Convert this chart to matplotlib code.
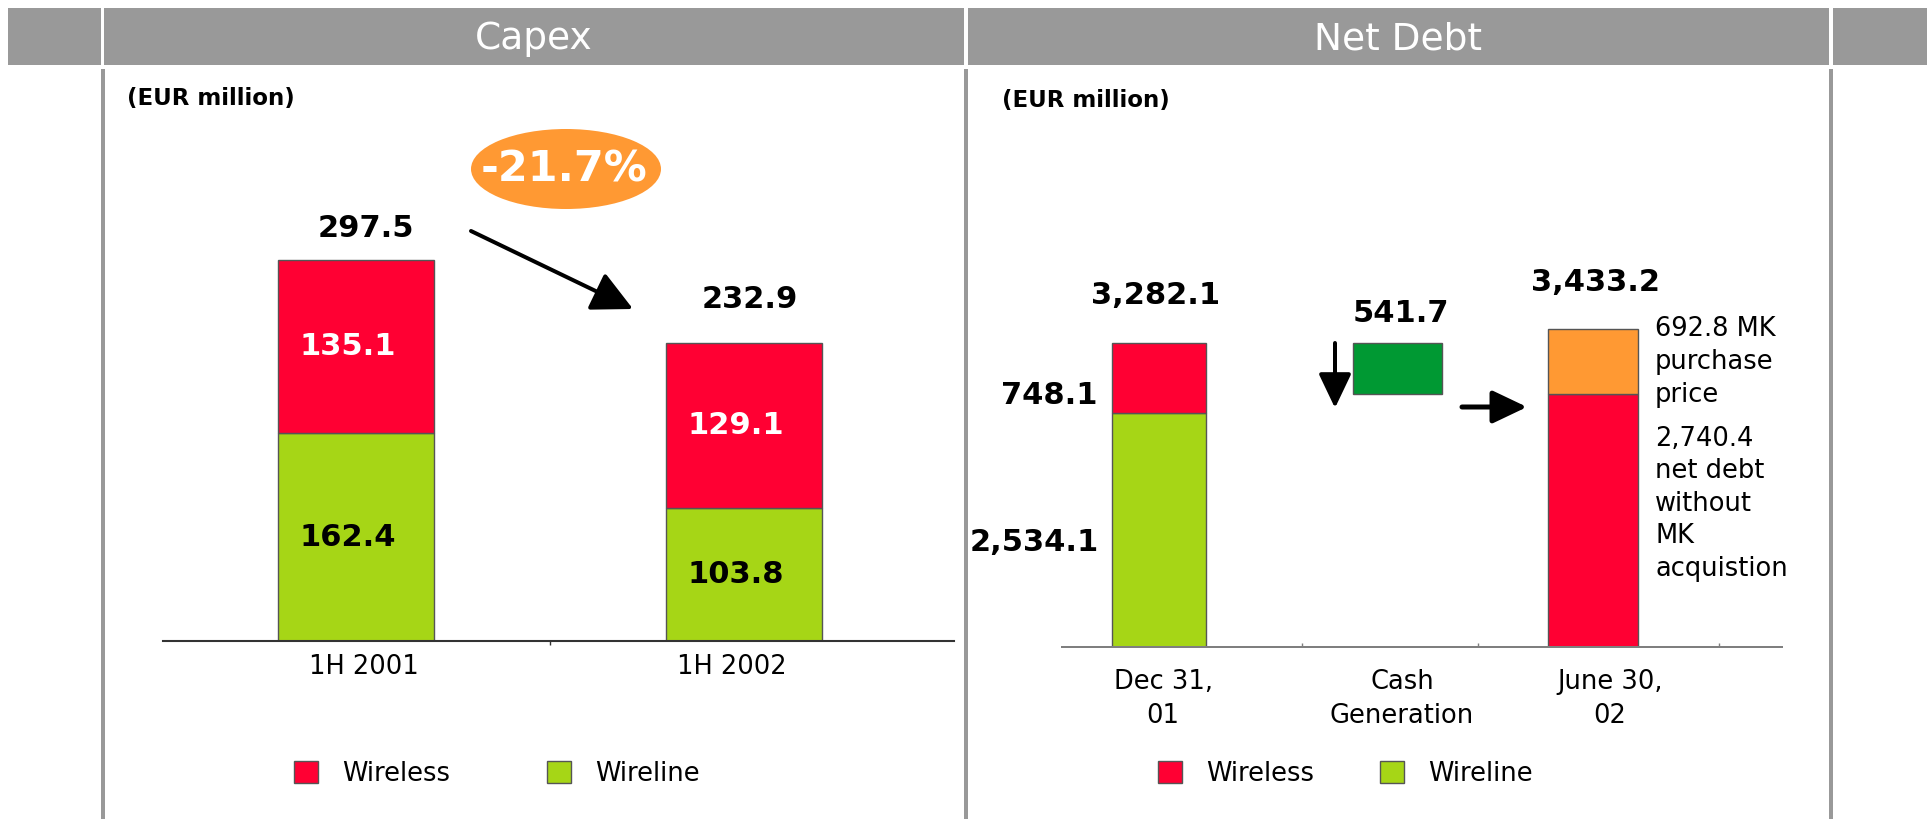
import matplotlib
matplotlib.use('Agg')
import matplotlib.pyplot as plt
from matplotlib.patches import Rectangle, Ellipse
from matplotlib.transforms import ScaledTranslation
import numpy as np

plt.rcParams['font.family'] = ['DejaVu Sans']

# ---------------- data ----------------
capex_periods = ['1H 2001', '1H 2002']
capex_wireless = [135.1, 129.1]
capex_wireline = [162.4, 103.8]
capex_change_label = '-21.7%'

nd_categories = ['Dec 31,\n01', 'Cash\nGeneration', 'June 30,\n02']
nd_dec_wireless = 748.1
nd_dec_wireline = 2534.1
nd_dec_total = 3282.1      # as reported
nd_cash_generation = 541.7
nd_june_base = 2740.4      # net debt without MK acquisition
nd_june_mk = 692.8         # MK purchase price

legend_labels = ['Wireless', 'Wireline']
unit_label = '(EUR million)'
panel_titles = ['Capex', 'Net Debt']

# ---------------- style ----------------
RED = '#FF0033'
LIME = '#A6D616'
DKGREEN = '#009933'
ORANGE = '#FF9933'
GREY = '#999999'
EDGE = '#555555'

W, H = 1927, 819
PX = 0.72  # points per pixel at dpi 100

fig = plt.figure(figsize=(W / 100, H / 100), dpi=100)
fig.patch.set_facecolor('white')


def frac_rect(l, t, r, b):
    return [l / W, 1 - b / H, (r - l) / W, (b - t) / H]


def shift_label(lbl, dx_px):
    lbl.set_transform(lbl.get_transform() + ScaledTranslation(dx_px / 100, 0, fig.dpi_scale_trans))


# overlay for frame decorations (pixel coordinates)
ov = fig.add_axes([0, 0, 1, 1])
ov.set_xlim(0, W)
ov.set_ylim(H, 0)
ov.axis('off')

for (l, r) in [(8, 101), (104, 964), (968, 1829), (1833, W + 5)]:
    ov.add_patch(Rectangle((l, 8), r - l, 57, facecolor=GREY, edgecolor='none'))
for x in [102.5, 966, 1831]:
    ov.plot([x, x], [69, H], color=GREY, lw=4 * PX, solid_capstyle='butt')

ov.text(534, 49, panel_titles[0], color='white', fontsize=27, ha='center', va='baseline')
ov.text(1398, 49, panel_titles[1], color='white', fontsize=27, ha='center', va='baseline')
ov.text(127, 99, unit_label, fontsize=16.5, fontweight='bold', ha='left', va='center')
ov.text(1002, 100, unit_label, fontsize=16.5, fontweight='bold', ha='left', va='center')

# change bubble and arrow (capex)
ov.add_patch(Ellipse((566, 169), 190, 80, facecolor=ORANGE, edgecolor='none'))
ov.text(564, 169, capex_change_label, color='white', fontsize=31, fontweight='bold',
        ha='center', va='center')
ov.annotate('', xy=(633, 309), xytext=(471, 231),
            arrowprops=dict(arrowstyle='-|>,head_length=2.5,head_width=1.25',
                            lw=4 * PX, color='black', shrinkA=0, shrinkB=0))
# net debt arrows
ov.annotate('', xy=(1335, 408), xytext=(1335, 343),
            arrowprops=dict(arrowstyle='-|>,head_length=2.1,head_width=1.0',
                            lw=4 * PX, color='black', shrinkA=0, shrinkB=0))
ov.annotate('', xy=(1527, 407), xytext=(1462, 407),
            arrowprops=dict(arrowstyle='-|>,head_length=2.1,head_width=1.0',
                            lw=5 * PX, color='black', shrinkA=0, shrinkB=0))

# ---------------- Capex panel ----------------
CAP_SCALE = 1.2807  # px per EUR m
ax1 = fig.add_axes(frac_rect(163, 100, 954, 641))
ax1.set_facecolor('none')
ax1.set_xlim(-0.497, 1.541)
ax1.set_ylim(0, (641 - 100) / CAP_SCALE)
x1 = np.arange(len(capex_periods))
bw = 0.402
wl = ax1.bar(x1, capex_wireline, width=bw, color=LIME, edgecolor=EDGE, lw=1)
ws = ax1.bar(x1, capex_wireless, bottom=capex_wireline, width=bw, color=RED,
             edgecolor=EDGE, lw=1)
for s in ['top', 'left', 'right']:
    ax1.spines[s].set_visible(False)
ax1.spines['bottom'].set_color('#333333')
ax1.spines['bottom'].set_linewidth(1.5)
ax1.set_yticks([])
ax1.set_xticks(x1)
ax1.set_xticklabels(capex_periods, fontsize=18.5)
ax1.tick_params(axis='x', which='major', length=0, pad=9)
ax1.set_xticks([0.5], minor=True)
ax1.tick_params(axis='x', which='minor', length=3, width=1, color='#333333', direction='out')
for lbl, dx in zip(ax1.get_xticklabels(), [8, -12]):
    shift_label(lbl, dx)

tot_off = [(10, 31), (6, 43)]
for i, (a, b) in enumerate(zip(capex_wireline, capex_wireless)):
    tot = a + b
    ax1.annotate(f'{tot:.1f}', xy=(i, tot), xytext=(tot_off[i][0] * PX, tot_off[i][1] * PX),
                 textcoords='offset points', ha='center', va='center',
                 fontsize=22, fontweight='bold')
    ax1.annotate(f'{b:.1f}', xy=(i, a + b / 2), xytext=(-8 * PX, 0), textcoords='offset points',
                 ha='center', va='center', fontsize=22, fontweight='bold', color='white')
    ax1.annotate(f'{a:.1f}', xy=(i, a / 2), xytext=(-8 * PX, 0), textcoords='offset points',
                 ha='center', va='center', fontsize=22, fontweight='bold', color='black')

ax1.legend([ws, wl], legend_labels, loc='center left',
           bbox_to_anchor=(294 / W, 1 - 774 / H), bbox_transform=fig.transFigure,
           ncol=2, frameon=False, fontsize=18.5, handlelength=0.95, handleheight=0.95,
           handletextpad=0.93, columnspacing=3.75, borderpad=0, borderaxespad=0)

# ---------------- Net Debt panel ----------------
ND_SCALE = 0.0925  # px per EUR m
ax2 = fig.add_axes(frac_rect(1062, 100, 1782, 647))
ax2.set_facecolor('none')
ax2.set_xlim(-0.408, 2.618)
ax2.set_ylim(0, (647 - 100) / ND_SCALE)
nd_pos = [0, 1, 1.824]
nd_w = [0.395, 0.374, 0.378]

june_total = nd_june_base + nd_june_mk

d_wl = ax2.bar(nd_pos[0], nd_dec_wireline, width=nd_w[0], color=LIME, edgecolor=EDGE, lw=1)
d_ws = ax2.bar(nd_pos[0], nd_dec_wireless, bottom=nd_dec_wireline, width=nd_w[0],
               color=RED, edgecolor=EDGE, lw=1)
ax2.bar(nd_pos[1], nd_cash_generation, bottom=nd_dec_total - nd_cash_generation,
        width=nd_w[1], color=DKGREEN, edgecolor=EDGE, lw=1)
ax2.bar(nd_pos[2], nd_june_base, width=nd_w[2], color=RED, edgecolor=EDGE, lw=1)
ax2.bar(nd_pos[2], nd_june_mk, bottom=nd_june_base, width=nd_w[2], color=ORANGE,
        edgecolor=EDGE, lw=1)

for s in ['top', 'left', 'right']:
    ax2.spines[s].set_visible(False)
ax2.spines['bottom'].set_color('#7F7F7F')
ax2.spines['bottom'].set_linewidth(2 * PX)
ax2.set_yticks([])
ax2.set_xticks(nd_pos)
ax2.set_xticklabels(nd_categories, fontsize=18.5, linespacing=1.38)
ax2.tick_params(axis='x', which='major', length=0, pad=16)
ax2.set_xticks([0.601, 1.340, 2.353], minor=True)
ax2.tick_params(axis='x', which='minor', length=3, width=1, color='#7F7F7F', direction='in')
for lbl, dx in zip(ax2.get_xticklabels(), [4, 5, 17]):
    shift_label(lbl, dx)


def lab(ax, text, xy, dx, dy, **kw):
    ax.annotate(text, xy=xy, xytext=(dx * PX, dy * PX), textcoords='offset points', **kw)


big = dict(fontsize=22, fontweight='bold', va='center')
lab(ax2, f'{nd_dec_total:,.1f}', (nd_pos[0], nd_dec_total), -4, 48, ha='center', **big)
lab(ax2, f'{nd_dec_wireless:,.1f}', (nd_pos[0] - nd_w[0] / 2, nd_dec_wireline + nd_dec_wireless / 2),
    -15, -18, ha='right', **big)
lab(ax2, f'{nd_dec_wireline:,.1f}', (nd_pos[0] - nd_w[0] / 2, nd_dec_wireline / 2),
    -13, -12.5, ha='right', **big)
lab(ax2, f'{nd_cash_generation:,.1f}', (nd_pos[1], nd_dec_total), 4, 30, ha='center', **big)
lab(ax2, f'{june_total:,.1f}', (nd_pos[2], june_total), 2, 47, ha='center', **big)
lab(ax2, f'{nd_june_mk:,.1f} MK\npurchase\nprice', (nd_pos[2] + nd_w[2] / 2, june_total),
    17, 13, ha='left', va='top', fontsize=18.5, linespacing=1.33)
lab(ax2, f'{nd_june_base:,.1f}\nnet debt\nwithout\nMK\nacquistion',
    (nd_pos[2] + nd_w[2] / 2, nd_june_base), 17, -32, ha='left', va='top',
    fontsize=18.5, linespacing=1.33)

ax2.legend([d_ws, d_wl], legend_labels, loc='center left',
           bbox_to_anchor=(1158 / W, 1 - 774 / H), bbox_transform=fig.transFigure,
           ncol=2, frameon=False, fontsize=18.5, handlelength=0.95, handleheight=0.95,
           handletextpad=0.93, columnspacing=2.55, borderpad=0, borderaxespad=0)

fig.savefig('out.png', dpi=100, facecolor='white')
